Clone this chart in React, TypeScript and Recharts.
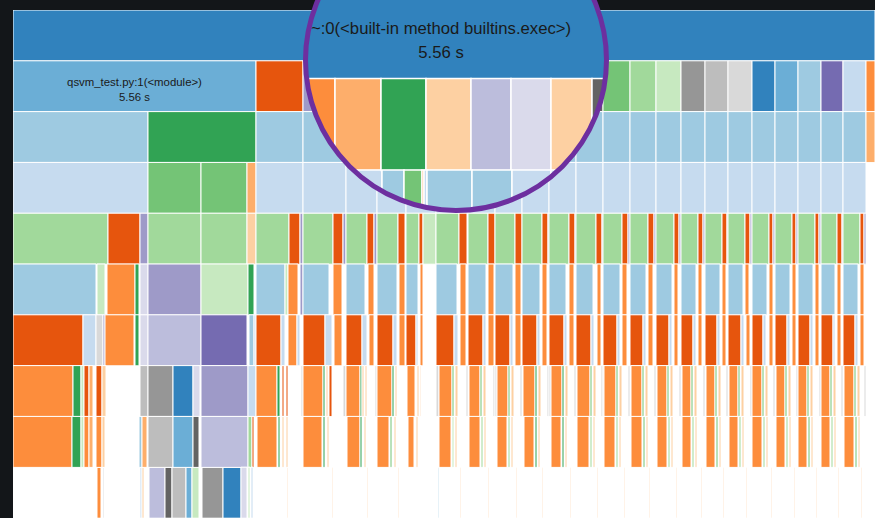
import React from 'react';
import { BarChart, Bar, XAxis, YAxis, Cell, LabelList } from 'recharts';

// d3 category20c, indexed by the segment tuples below (-1 = empty)
const PALETTE = [
  '#3182bd', '#6baed6', '#9ecae1', '#c6dbef',
  '#e6550d', '#fd8d3c', '#fdae6b', '#fdd0a2',
  '#31a354', '#74c476', '#a1d99b', '#c7e9c0',
  '#756bb1', '#9e9ac8', '#bcbddc', '#dadaeb',
  '#636363', '#969696', '#bdbdbd', '#d9d9d9',
];

const ROOT_NAME = '~:0(<built-in method builtins.exec>)';
const MODULE_NAME = 'qsvm_test.py:1(<module>)';
const TOTAL_TIME = '5.56 s';

// each row: [width, colour index] from left to right
const row0 = [[925, 0]];
const row1 = [
  [243, 1], [47, 4], [43, 13], [31, 6], [29, 5], [30, 6], [32, 8], [27, 7], [27, 14], [27, 15],
  [27, 7], [27, 16], [27, 9], [26, 10], [25, 11], [24, 17], [23, 18], [24, 19], [23, 0], [23, 1],
  [23, 2], [22, 12], [23, 3], [24, 5], [48, 6],
];
const row2 = [
  [135, 2], [108, 8], [47, 2], [43, 2], [31, 2], [29, 2], [30, 2], [32, 2], [27, 2], [27, 2],
  [27, 2], [27, 2], [27, 2], [27, 2], [26, 2], [25, 2], [24, 2], [23, 2], [24, 2], [23, 2],
  [23, 2], [23, 2], [22, 2], [23, 2], [34, 6],
];
const row3 = [
  [135, 3], [53, 9], [46, 9], [9, 6], [47, 3], [43, 3], [31, 3], [29, 3], [30, 3], [32, 3],
  [27, 3], [27, 3], [27, 3], [27, 3], [27, 3], [27, 3], [26, 3], [25, 3], [24, 3], [23, 3],
  [24, 3], [23, 3], [23, 3], [23, 3], [22, 3], [23, 3],
];
const row4 = [
  [95, 10], [32, 4], [8, 13], [53, 10], [46, 10], [9, 7],
  [33, 10], [11, 4], [3, 13], [30, 10], [10, 4], [3, 13], [21, 10], [7, 4], [3, 13],
  [21, 10], [7, 4], [1, -1], [13, 10], [4, 4], [13, 11], [23, 10], [8, 4], [1, -1],
  [20, 10], [7, 4], [20, 10], [7, 4], [20, 10], [6, 4], [1, 13], [20, 10], [6, 4], [1, 13],
  [20, 10], [6, 4], [1, 13], [19, 10], [6, 4], [2, 13], [18, 10], [6, 4], [2, 13],
  [18, 10], [5, 4], [2, 13], [17, 10], [5, 4], [2, 13], [17, 10], [5, 4], [1, 13],
  [17, 10], [5, 4], [2, 13], [17, 10], [4, 4], [2, 13], [17, 10], [4, 4], [2, 13],
  [17, 10], [4, 4], [2, 13], [16, 10], [5, 4], [1, 13], [17, 10], [4, 4], [2, 13],
];
const row5 = [
  [83, 2], [1, -1], [8, 11], [2, -1], [28, 5], [4, 8], [1, -1], [8, 15], [53, 13], [47, 11], [6, 8], [2, -1],
  [29, 2], [3, 11], [10, 5], [2, -1], [3, 13], [26, 2], [4, -1], [9, 5], [4, -1],
  [19, 2], [3, -1], [6, 5], [3, -1], [20, 2], [2, -1], [6, 5], [1, -1],
  [12, 2], [2, -1], [3, 5], [13, -1], [21, 2], [3, -1], [6, 5], [2, -1],
  [18, 2], [2, -1], [6, 5], [1, -1], [18, 2], [2, -1], [6, 5], [1, -1],
  [18, 2], [2, -1], [5, 5], [2, -1], [17, 2], [3, -1], [5, 5], [2, -1],
  [17, 2], [4, -1], [4, 5], [2, -1], [17, 2], [2, -1], [5, 5], [3, -1],
  [16, 2], [2, -1], [5, 5], [3, -1], [16, 2], [2, -1], [4, 5], [3, -1],
  [15, 2], [2, -1], [4, 5], [3, -1], [15, 2], [2, -1], [4, 5], [2, -1],
  [15, 2], [2, -1], [4, 5], [3, -1], [15, 2], [2, -1], [4, 5], [2, -1],
  [15, 2], [2, -1], [4, 5], [2, -1], [15, 2], [2, -1], [4, 5], [2, -1],
  [14, 2], [2, -1], [4, 5], [2, -1], [15, 2], [2, -1], [4, 5], [2, -1],
];
const row6 = [
  [70, 4], [13, 3], [7, 19], [2, 13], [29, 5], [1, -1], [4, 8], [1, -1], [8, 15], [53, 14], [46, 12], [2, -1], [5, 2], [2, 3],
  [25, 4], [4, 3], [3, -1], [9, 5], [3, 3], [3, -1], [22, 4], [7, 3], [2, -1], [8, 5], [4, -1],
  [16, 4], [5, 3], [2, -1], [5, 5], [3, -1], [16, 4], [4, 3], [2, -1], [6, 5], [1, -1],
  [10, 4], [2, 3], [2, -1], [3, 5], [13, -1], [18, 4], [4, 3], [2, -1], [6, 5], [2, -1],
  [15, 4], [3, 3], [2, -1], [6, 5], [1, -1], [15, 4], [3, 3], [2, -1], [6, 5], [1, -1],
  [15, 4], [3, 3], [2, -1], [5, 5], [2, -1], [15, 4], [3, 3], [2, -1], [5, 5], [2, -1],
  [15, 4], [3, 3], [3, -1], [4, 5], [2, -1], [14, 4], [3, 3], [2, -1], [5, 5], [3, -1],
  [13, 4], [3, 3], [2, -1], [5, 5], [3, -1], [13, 4], [3, 3], [2, -1], [4, 5], [3, -1],
  [12, 4], [3, 3], [2, -1], [4, 5], [3, -1], [12, 4], [3, 3], [2, -1], [4, 5], [2, -1],
  [13, 4], [3, 3], [2, -1], [4, 5], [2, -1], [11, 4], [3, 3], [3, -1], [4, 5], [2, -1],
  [12, 4], [3, 3], [2, -1], [4, 5], [2, -1], [12, 4], [3, 3], [2, -1], [4, 5], [2, -1],
  [12, 4], [2, 3], [2, -1], [4, 5], [2, -1], [12, 4], [3, 3], [2, -1], [4, 5], [2, -1],
];
const row7 = [
  [60, 5], [8, 8], [3, 11], [5, 4], [4, 6], [3, -1], [6, 4], [4, 7], [34, -1], [8, 18],
  [25, 17], [20, 0], [7, 15], [1, -1], [47, 13], [8, 3],
  [21, 5], [3, 8], [2, -1], [2, 4], [2, -1], [2, 4], [13, -1], [2, 19],
  [20, 5], [2, 8], [1, -1], [2, 7], [1, -1], [3, 4], [11, -1], [3, 19],
  [14, 5], [2, 8], [2, 7], [1, -1], [2, 7], [8, -1], [2, 19],
  [15, 5], [2, 8], [1, -1], [2, 7], [9, -1],
  [1, -1], [8, 5], [2, -1], [2, 7], [1, -1], [1, 7], [15, -1],
  [3, 19], [13, 5], [2, 9], [1, -1], [3, 7], [8, -1], [2, 19],
  [1, -1], [11, 5], [2, 9], [1, -1], [3, 7], [7, -1], [2, 19],
  [2, 19], [11, 5], [2, 9], [1, -1], [3, 7], [6, -1], [2, 19],
  [1, -1], [12, 5], [2, 8], [1, -1], [3, 7], [6, -1], [2, 19],
  [2, 19], [11, 5], [2, 8], [1, -1], [3, 7], [6, -1], [2, 19],
  [1, -1], [13, 5], [2, 9], [1, -1], [3, 7], [5, -1], [2, 19],
  [1, 19], [12, 5], [2, 9], [1, -1], [3, 7], [6, -1], [2, 19],
  [1, -1], [11, 5], [2, 9], [1, -1], [3, 7], [6, -1], [2, 19],
  [1, -1], [10, 5], [2, 9], [1, -1], [3, 7], [6, -1], [2, 19],
  [1, -1], [9, 5], [2, 9], [1, -1], [3, 7], [6, -1], [2, 19],
  [1, -1], [9, 5], [2, 9], [1, -1], [3, 7], [5, -1], [2, 19],
  [1, -1], [9, 5], [2, 9], [1, -1], [3, 7], [6, -1], [2, 19],
  [10, 5], [2, 9], [1, -1], [3, 7], [5, -1], [2, 19],
  [1, -1], [9, 5], [2, 9], [1, -1], [3, 7], [5, -1], [2, 19],
  [9, 5], [2, 9], [1, -1], [3, 7], [6, -1], [2, 19],
  [9, 5], [2, 9], [1, -1], [3, 7], [5, -1], [2, 19],
  [1, -1], [10, 5], [2, 9], [1, -1], [3, 7], [4, -1], [2, 19],
];
const row8 = [
  [59, 5], [9, 8], [3, 11], [5, 5], [4, 6], [3, -1], [6, 5], [3, 7], [34, -1], [3, 2],
  [5, 6], [1, -1], [25, 18], [20, 1], [6, 16], [2, -1], [47, 14], [4, 10], [2, 4], [2, -1],
  [1, -1], [20, 5], [1, -1], [2, 8], [2, -1], [2, 7], [2, -1], [2, 7], [15, -1],
  [19, 5], [1, -1], [2, 8], [2, -1], [2, 7], [17, -1],
  [1, -1], [13, 5], [2, 8], [2, -1], [2, 7], [11, -1],
  [12, 5], [1, -1], [2, 9], [2, -1], [2, 7], [10, -1],
  [2, -1], [6, 5], [2, -1], [2, 7], [18, -1],
  [3, -1], [12, 5], [1, -1], [2, 11], [1, -1], [2, 7], [11, -1],
  [1, -1], [11, 5], [1, -1], [2, 10], [1, -1], [2, 7], [9, -1],
  [2, -1], [10, 5], [1, -1], [2, 10], [1, -1], [2, 7], [9, -1],
  [2, -1], [10, 5], [1, -1], [2, 8], [1, -1], [2, 7], [9, -1],
  [2, -1], [10, 5], [1, -1], [2, 8], [1, -1], [2, 7], [9, -1],
  [1, -1], [12, 5], [1, -1], [2, 10], [1, -1], [2, 7], [8, -1],
  [1, -1], [11, 5], [1, -1], [2, 10], [1, -1], [2, 7], [9, -1],
  [1, -1], [11, 5], [1, -1], [2, 9], [1, -1], [2, 7], [8, -1],
  [1, -1], [10, 5], [1, -1], [2, 10], [1, -1], [2, 7], [8, -1],
  [1, -1], [9, 5], [1, -1], [2, 10], [1, -1], [2, 7], [8, -1],
  [1, -1], [9, 5], [1, -1], [2, 9], [1, -1], [2, 7], [7, -1],
  [1, -1], [9, 5], [1, -1], [2, 10], [1, -1], [2, 7], [8, -1],
  [10, 5], [1, -1], [2, 10], [1, -1], [2, 7], [7, -1],
  [1, -1], [9, 5], [1, -1], [2, 10], [1, -1], [2, 7], [7, -1],
  [9, 5], [1, -1], [2, 9], [1, -1], [2, 7], [8, -1],
  [9, 5], [1, -1], [2, 10], [1, -1], [2, 7], [7, -1],
  [1, -1], [10, 5], [1, -1], [2, 9], [1, -1], [2, 7], [6, -1],
];
const row9 = [
  [84, -1], [4, 5], [2, -1], [1, 18], [36, -1], [2, 3], [2, 7], [5, -1], [16, 14], [7, 16],
  [14, 18], [6, 1], [7, 11], [3, -1], [21, 17], [18, 0], [6, 15], [1, -1], [2, 11], [1, -1],
  [2, 3], [3, -1],
  [31, -1], [1, 7], [15, -1], [29, -1], [1, 7], [13, -1], [21, -1], [1, 7], [9, -1],
  [21, -1], [1, 7], [7, -1], [30, -1], [2, -1], [1, 2], [21, -1], [1, 7], [7, -1],
  [20, -1], [1, 7], [6, -1], [21, -1], [1, 7], [5, -1], [20, -1], [1, 7], [6, -1],
  [21, -1], [1, 7], [5, -1], [21, -1], [1, 7], [5, -1], [21, -1], [1, 7], [5, -1],
  [19, -1], [1, 7], [6, -1], [20, -1], [1, 7], [4, -1], [20, -1], [1, 7], [3, -1],
  [18, -1], [1, 7], [4, -1], [18, -1], [1, 7], [5, -1], [19, -1], [1, 7], [3, -1],
  [19, -1], [1, 7], [3, -1], [18, -1], [1, 7], [4, -1], [17, -1], [1, 7], [4, -1],
  [18, -1], [1, 7], [4, -1],
];

// rows seen through the magnifier
const lens0 = [[358, 0]];
const lens1 = [[73, 5], [46, 6], [45, 8], [45, 7], [40, 14], [40, 15], [41, 7], [28, 16]];
const lens2 = [
  [85, 3], [35, 3], [22, 2], [18, 9], [2, 5], [3, 3], [45, 2], [40, 2], [39, 3], [41, 3], [28, 3],
];

// the root label sits under the lens, so only the magnified copy is drawn
const FLAME_ROWS = [row0, row1, row2, row3, row4, row5, row6, row7, row8, row9];
const FLAME_NAMES = ['', MODULE_NAME];
const LENS_ROWS = [lens0, lens1, lens2];
const LENS_NAMES = [ROOT_NAME];

const FONT = "'Liberation Sans', Arial, Helvetica, sans-serif";

const buildTable = (rows: number[][][], names: string[]) =>
  rows.map((segs, i) => {
    const d: any = { row: 'r' + i, name: names[i] || '', time: names[i] ? TOTAL_TIME : '' };
    segs.forEach(([w], j) => {
      d['s' + j] = w;
    });
    return d;
  });

const makeLabel = (fontSize: number, dy: number) => (props: any) => {
  const vb = props.viewBox || props;
  const { x, y, width, height } = vb;
  if (!props.value || !(width > 180)) return null;
  return (
    <text
      x={x + width / 2}
      y={y + height / 2 + dy}
      textAnchor="middle"
      fontSize={fontSize}
      fontFamily={FONT}
      fill="#1a1a1a"
    >
      {props.value}
    </text>
  );
};

interface FlameProps {
  rows: number[][][];
  names: string[];
  width: number;
  height: number;
  fontSize: number;
  dy1: number;
  dy2: number;
  strokeWidth: number;
}

const Flame: React.FC<FlameProps> = ({ rows, names, width, height, fontSize, dy1, dy2, strokeWidth }) => {
  const data = buildTable(rows, names);
  const n = Math.max(...rows.map((r) => r.length));
  return (
    <BarChart
      layout="vertical"
      width={width}
      height={height}
      data={data}
      margin={{ top: 0, right: 0, bottom: 0, left: 0 }}
      barCategoryGap={0}
      barGap={0}
    >
      <XAxis type="number" hide domain={[0, width]} allowDataOverflow />
      <YAxis type="category" dataKey="row" hide />
      {Array.from({ length: n }, (_, j) => (
        <Bar key={j} dataKey={'s' + j} stackId="f" isAnimationActive={false}>
          {rows.map((segs, i) => {
            const c = segs[j] ? segs[j][1] : -1;
            return (
              <Cell
                key={i}
                fill={c < 0 ? 'transparent' : PALETTE[c]}
                stroke={c < 0 ? 'none' : '#ffffff'}
                strokeWidth={strokeWidth}
              />
            );
          })}
          {j === 0 && <LabelList dataKey="name" content={makeLabel(fontSize, dy1)} />}
          {j === 0 && <LabelList dataKey="time" content={makeLabel(fontSize, dy2)} />}
        </Bar>
      ))}
    </BarChart>
  );
};

export default function App() {
  return (
    <div
      style={{
        position: 'absolute',
        left: 0,
        top: 0,
        width: 875,
        height: 518,
        background: '#131619',
        overflow: 'hidden',
      }}
    >
      <div style={{ position: 'absolute', left: 13, top: 10, width: 862, height: 508, background: '#fff' }}>
        <Flame
          rows={FLAME_ROWS}
          names={FLAME_NAMES}
          width={862}
          height={508}
          fontSize={11.4}
          dy1={0}
          dy2={14.5}
          strokeWidth={1}
        />
      </div>

      {/* magnifier lens */}
      <div
        style={{
          position: 'absolute',
          left: 0,
          top: 0,
          width: 875,
          height: 518,
          clipPath: 'circle(149px at 456px 60px)',
        }}
      >
        <div style={{ position: 'absolute', left: 262, top: -13, width: 358, height: 274.5, background: '#fff' }}>
          <Flame
            rows={LENS_ROWS}
            names={LENS_NAMES}
            width={358}
            height={274.5}
            fontSize={16.7}
            dy1={1}
            dy2={24.5}
            strokeWidth={1.5}
          />
        </div>
      </div>
      <div
        style={{
          position: 'absolute',
          left: 303,
          top: -93,
          width: 306,
          height: 306,
          boxSizing: 'border-box',
          border: '5px solid #6d2f9f',
          borderRadius: '50%',
        }}
      />
    </div>
  );
}
